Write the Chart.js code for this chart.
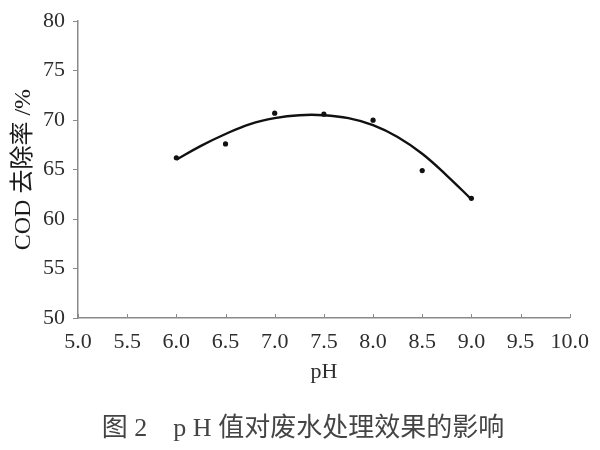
<!DOCTYPE html>
<html>
<head>
<meta charset="utf-8">
<script src="https://cdn.jsdelivr.net/npm/chart.js@4"></script>
<style>
  html, body { margin: 0; padding: 0; background: #fff; }
  #wrap { width: 600px; height: 450px; }
</style>
</head>
<body>
<div id="wrap"><canvas id="c" width="600" height="450"></canvas></div>
<script>
// Measured points (pH, COD removal %)
const pointPH = [6.0, 6.5, 7.0, 7.5, 8.0, 8.5, 9.0];
const pointCOD = [66.2, 67.6, 70.7, 70.6, 70.0, 64.9, 62.1];
// Fitted curve
const curvePH = [6.0, 6.25, 6.5, 6.75, 7.0, 7.25, 7.5, 7.75, 8.0, 8.25, 8.5, 8.75, 9.0];
const curveCOD = [66.0, 67.4, 68.6, 69.6, 70.2, 70.5, 70.5, 70.2, 69.5, 68.3, 66.6, 64.4, 62.0];
// Axis ticks
const xMin = 5.0, xMax = 10.0, xStep = 0.5;
const yMin = 50, yMax = 80, yStep = 5;
const xTitle = 'pH';
const yTitle = 'COD 去除率 /%';
const caption = '图 2　p H 值对废水处理效果的影响';

const serif = "'Liberation Serif', 'DejaVu Serif', 'Noto Sans CJK SC', serif";
const axisColor = '#8a8a8a';
const textColor = '#2e2e2e';

const inwardXTicks = {
  id: 'inwardXTicks',
  afterDraw(chart) {
    const xs = chart.scales.x;
    const ctx = chart.ctx;
    const yb = chart.chartArea.bottom;
    ctx.save();
    ctx.strokeStyle = axisColor;
    ctx.lineWidth = 1;
    xs.ticks.forEach(t => {
      const px = Math.round(xs.getPixelForValue(t.value)) + 0.5;
      ctx.beginPath();
      ctx.moveTo(px, yb);
      ctx.lineTo(px, yb - 4);
      ctx.stroke();
    });
    ctx.restore();
  }
};

const captionPlugin = {
  id: 'captionPlugin',
  afterDraw(chart) {
    const ctx = chart.ctx;
    ctx.save();
    ctx.fillStyle = '#444';
    ctx.font = "26px " + serif;
    ctx.textAlign = 'center';
    ctx.textBaseline = 'middle';
    ctx.fillText(caption, 303, 429);
    ctx.restore();
  }
};

new Chart(document.getElementById('c'), {
  type: 'scatter',
  data: {
    datasets: [
      {
        type: 'line',
        data: curvePH.map((x, i) => ({ x, y: curveCOD[i] })),
        borderColor: '#111',
        borderWidth: 2.4,
        pointRadius: 0,
        tension: 0.4,
        fill: false
      },
      {
        type: 'scatter',
        data: pointPH.map((x, i) => ({ x, y: pointCOD[i] })),
        backgroundColor: '#111',
        borderColor: '#111',
        pointRadius: 2.6,
        pointBorderWidth: 0
      }
    ]
  },
  options: {
    responsive: false,
    animation: false,
    devicePixelRatio: 1,
    layout: { padding: { left: 0, right: 30, top: 18, bottom: 65 } },
    plugins: {
      legend: { display: false },
      tooltip: { enabled: false },
      title: { display: false }
    },
    scales: {
      x: {
        type: 'linear',
        min: xMin, max: xMax,
        afterFit(scale) { scale.height = 67; },
        afterBuildTicks(scale) {
          const t = [];
          for (let v = xMin; v <= xMax + 1e-9; v += xStep) t.push({ value: Math.round(v * 10) / 10 });
          scale.ticks = t;
        },
        ticks: {
          callback: v => Number(v).toFixed(1),
          color: textColor,
          font: { family: serif, size: 22 },
          padding: 11,
          maxRotation: 0,
          autoSkip: false
        },
        grid: { display: false, drawTicks: false },
        border: { display: true, color: axisColor, width: 1.5 },
        title: {
          display: true,
          text: xTitle,
          color: textColor,
          font: { family: serif, size: 22 },
          padding: { top: 0, bottom: 0 }
        }
      },
      y: {
        min: yMin, max: yMax,
        afterFit(scale) { scale.width = 78; },
        ticks: {
          stepSize: yStep,
          color: textColor,
          font: { family: serif, size: 22 },
          padding: 8
        },
        grid: { display: true, drawOnChartArea: false, tickLength: 5, color: axisColor },
        border: { display: true, color: axisColor, width: 1.5 },
        title: {
          display: true,
          text: yTitle,
          color: '#1a1a1a',
          font: { family: serif, size: 24, weight: 'normal' },
          padding: { top: 9, bottom: 0 }
        }
      }
    }
  },
  plugins: [inwardXTicks, captionPlugin]
});
</script>
</body>
</html>
